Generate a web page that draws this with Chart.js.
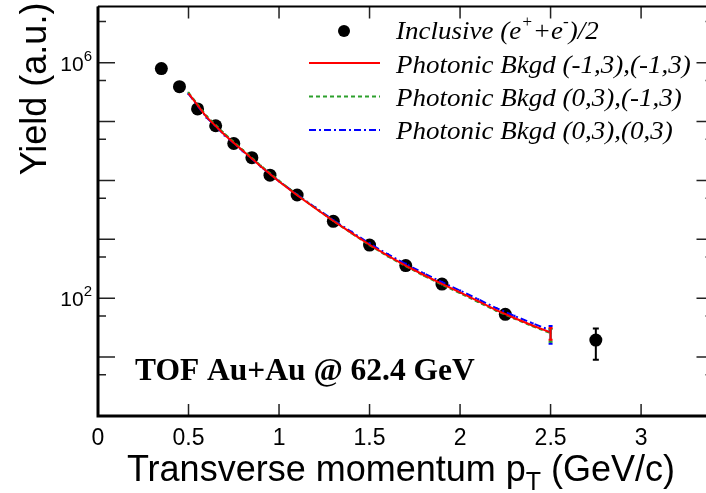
<!DOCTYPE html>
<html>
<head>
<meta charset="utf-8">
<script src="https://cdn.jsdelivr.net/npm/chart.js@4.4.1/dist/chart.umd.min.js"></script>
<style>
  html, body { margin:0; padding:0; background:#fff; overflow:hidden; }
  #wrap { width:720px; height:493px; }
</style>
</head>
<body>
<div id="wrap"><canvas id="chart-yield" width="720" height="493"></canvas></div>
<script>
// inclusive electrons
const ptInclusive    = [0.35, 0.45, 0.55, 0.65, 0.75, 0.85, 0.95, 1.1, 1.3, 1.5, 1.7, 1.9, 2.25, 2.75];
const yieldInclusive = [7.93e5, 3.91e5, 1.64e5, 8.5e4, 4.24e4, 2.44e4, 1.23e4, 5660, 2020, 800, 359, 174, 53.2, 19.5];
const errHiInclusive = [0, 0, 0, 0, 0, 0, 0, 0, 0, 0, 0, 0, 0, 11];
const errLoInclusive = [0, 0, 0, 0, 0, 0, 0, 0, 0, 0, 0, 0, 0, 10.5];

// photonic background curves
const ptBkgd = [0.5, 0.6, 0.7, 0.8, 0.9, 1.0, 1.1, 1.2, 1.3, 1.4, 1.5, 1.6, 1.7, 1.8, 1.9, 2.0, 2.1, 2.2, 2.3, 2.4, 2.5];
const bkgdA = [3.01e5, 1.19e5, 5.93e4, 3.19e4, 1.72e4, 9620, 5600, 3380, 2050, 1285, 809, 528, 359, 248, 175, 126, 89, 62.9, 46.1, 34.5, 26.3];
const bkgdB = [3.1e5, 1.24e5, 6.2e4, 3.3e4, 1.78e4, 9900, 5700, 3400, 2050, 1270, 795, 515, 350, 240, 170, 122, 86, 61, 45, 33.5, 25.5];
const bkgdC = [2.95e5, 1.17e5, 5.85e4, 3.15e4, 1.72e4, 9700, 5750, 3480, 2120, 1340, 850, 560, 382, 265, 187, 135, 96, 68, 50, 37.5, 28.5];
// errors on the last bin only
const errBkgdA = [5, 6.5];
const errBkgdB = [4.6, 7.3];
const errBkgdC = [5.4, 11.6];

const xTicks = [0, 0.5, 1, 1.5, 2, 2.5, 3];
const xTickLabels = ['0', '0.5', '1', '1.5', '2', '2.5', '3'];
const yMajor = [1, 10, 100, 1e3, 1e4, 1e5, 1e6];
const yMinor = [5, 50, 500, 5e3, 5e4, 5e5, 5e6];
const yLabelled = [[1e6, '6'], [1e2, '2']];

const legendRows = [
  { kind:'dot' },
  { kind:'line', color:'#ff0000', dash:[] , text:'Photonic Bkgd (-1,3),(-1,3)' },
  { kind:'line', color:'#2ca02c', dash:[4,3], text:'Photonic Bkgd (0,3),(-1,3)' },
  { kind:'line', color:'#0000ff', dash:[7,3,2,3], text:'Photonic Bkgd (0,3),(0,3)' }
];

function drawRuns(ctx, x, y, runs) {
  // runs: [text, font, dy]
  runs.forEach(([t, f, dy]) => {
    ctx.font = f;
    ctx.fillText(t, x, y + dy);
    x += ctx.measureText(t).width;
  });
  return x;
}
function runsWidth(ctx, runs) {
  let w = 0;
  runs.forEach(([t, f]) => { ctx.font = f; w += ctx.measureText(t).width; });
  return w;
}

const errorBars = {
  id:'errorBars',
  afterDatasetsDraw(chart) {
    const { ctx, scales:{ x, y } } = chart;
    ctx.save();
    ctx.lineWidth = 2;
    ctx.strokeStyle = '#000';
    ptInclusive.forEach((p, i) => {
      if (!errHiInclusive[i]) return;
      const px = x.getPixelForValue(p);
      const y1 = y.getPixelForValue(yieldInclusive[i] + errHiInclusive[i]);
      const y2 = y.getPixelForValue(yieldInclusive[i] - errLoInclusive[i]);
      ctx.beginPath();
      ctx.moveTo(px, y1); ctx.lineTo(px, y2);
      ctx.moveTo(px - 3, y1); ctx.lineTo(px + 3, y1);
      ctx.moveTo(px - 3, y2); ctx.lineTo(px + 3, y2);
      ctx.stroke();
    });
    const last = ptBkgd.length - 1;
    [[bkgdC, errBkgdC, '#0000ff'], [bkgdB, errBkgdB, '#2ca02c'], [bkgdA, errBkgdA, '#ff0000']].forEach(([vals, err, col]) => {
      const px = x.getPixelForValue(ptBkgd[last]);
      const y1 = y.getPixelForValue(vals[last] + err[0]);
      const y2 = y.getPixelForValue(vals[last] - err[1]);
      ctx.strokeStyle = col;
      ctx.lineWidth = 2;
      ctx.beginPath();
      ctx.moveTo(px, y1); ctx.lineTo(px, y2);
      ctx.moveTo(px - 2, y1); ctx.lineTo(px + 2, y1);
      ctx.moveTo(px - 2, y2); ctx.lineTo(px + 2, y2);
      ctx.stroke();
    });
    ctx.restore();
  }
};

const frame = {
  id:'frame',
  afterDraw(chart) {
    const { ctx, chartArea:a, scales:{ x, y } } = chart;
    ctx.save();
    // ticks
    ctx.strokeStyle = '#222';
    ctx.lineWidth = 1.5;
    ctx.beginPath();
    xTicks.forEach(v => {
      const px = x.getPixelForValue(v);
      ctx.moveTo(px, a.bottom); ctx.lineTo(px, a.bottom - 12);
      ctx.moveTo(px, a.top); ctx.lineTo(px, a.top + 12);
    });
    yMajor.forEach(v => {
      const py = y.getPixelForValue(v);
      ctx.moveTo(a.left, py); ctx.lineTo(a.left + 17, py);
      ctx.moveTo(a.right, py); ctx.lineTo(a.right - 17, py);
    });
    yMinor.forEach(v => {
      const py = y.getPixelForValue(v);
      if (py < a.top) return;
      ctx.moveTo(a.left, py); ctx.lineTo(a.left + 8, py);
      ctx.moveTo(a.right, py); ctx.lineTo(a.right - 8, py);
    });
    ctx.stroke();

    // frame
    ctx.strokeStyle = '#000';
    ctx.lineWidth = 3;
    ctx.beginPath();
    ctx.moveTo(a.left, a.top); ctx.lineTo(a.left, a.bottom); ctx.lineTo(a.right, a.bottom);
    ctx.stroke();
    ctx.lineWidth = 2;
    ctx.beginPath();
    ctx.moveTo(a.left, a.top); ctx.lineTo(a.right, a.top); ctx.lineTo(a.right, a.bottom);
    ctx.stroke();

    // tick labels
    ctx.fillStyle = '#000';
    ctx.font = '23px "Liberation Sans", Arial, sans-serif';
    ctx.textAlign = 'center';
    ctx.textBaseline = 'alphabetic';
    xTicks.forEach((v, i) => ctx.fillText(xTickLabels[i], x.getPixelForValue(v), 445));
    ctx.textAlign = 'left';
    yLabelled.forEach(([v, e]) => {
      const py = y.getPixelForValue(v);
      const runs = [['10', '21px "Liberation Sans", Arial', 0], [e, '15px "Liberation Sans", Arial', -10]];
      const w = runsWidth(ctx, runs);
      drawRuns(ctx, 92 - w, py + 8, runs);
    });

    // axis titles
    const tf = '36px "Liberation Sans", Arial, sans-serif';
    const xRuns = [['Transverse momentum p', tf, 0], ['T', '25px "Liberation Sans", Arial', 9], [' (GeV/c)', tf, 0]];
    const xw = runsWidth(ctx, xRuns);
    drawRuns(ctx, 401 - xw / 2, 481, xRuns);

    ctx.save();
    ctx.translate(46, 89);
    ctx.rotate(-Math.PI / 2);
    ctx.font = tf;
    ctx.textAlign = 'center';
    ctx.fillText('Yield (a.u.)', 0, 0);
    ctx.restore();

    // legend
    const lf = 'italic 25px "Liberation Serif", "Times New Roman", serif';
    const sf = 'italic 16px "Liberation Serif", "Times New Roman", serif';
    ctx.textAlign = 'left';
    ctx.beginPath();
    ctx.arc(344, 31, 6, 0, Math.PI * 2);
    ctx.fill();
    ctx.save();
    ctx.translate(396, 0);
    ctx.scale(1.08, 1);
    drawRuns(ctx, 0, 39, [['Inclusive (e', lf, 0], ['+', sf, -12], ['+e', lf, 0], ['-', sf, -12], [')/2', lf, 0]]);
    legendRows.slice(1).forEach((r, i) => {
      ctx.font = lf;
      ctx.fillText(r.text, 0, 72.5 + i * 33.2);
    });
    ctx.restore();
    legendRows.slice(1).forEach((r, i) => {
      const yy = 63 + i * 33.5;
      ctx.strokeStyle = r.color;
      ctx.lineWidth = 2;
      ctx.setLineDash(r.dash);
      ctx.beginPath();
      ctx.moveTo(309, yy); ctx.lineTo(380, yy);
      ctx.stroke();
      ctx.setLineDash([]);
    });

    // label
    ctx.font = 'bold 31.5px "Liberation Serif", "Times New Roman", serif';
    ctx.fillText('TOF Au+Au @ 62.4 GeV', 135, 380);
    ctx.restore();
  }
};

new Chart(document.getElementById('chart-yield'), {
  type:'line',
  data:{
    datasets:[{
      label:'Inclusive (e+ + e-)/2',
      data: ptInclusive.map((p, i) => ({ x:p, y:yieldInclusive[i] })),
      showLine:false,
      pointRadius:6.5,
      pointBackgroundColor:'#000',
      pointBorderWidth:0,
      order:4
    }, {
      label:'Photonic Bkgd (0,3),(0,3)',
      data: ptBkgd.map((p, i) => ({ x:p, y:bkgdC[i] })),
      borderColor:'#0000ff',
      borderWidth:2,
      borderDash:[7,3,2,3],
      pointStyle:'rect',
      pointRadius:1.6,
      pointBackgroundColor:'#0000ff',
      pointBorderWidth:0,
      tension:0,
      order:3
    }, {
      label:'Photonic Bkgd (0,3),(-1,3)',
      data: ptBkgd.map((p, i) => ({ x:p, y:bkgdB[i] })),
      borderColor:'#2ca02c',
      borderWidth:2,
      borderDash:[4,3],
      pointStyle:'rect',
      pointRadius:1.3,
      pointBackgroundColor:'#2ca02c',
      pointBorderWidth:0,
      tension:0,
      order:2
    }, {
      label:'Photonic Bkgd (-1,3),(-1,3)',
      data: ptBkgd.map((p, i) => ({ x:p, y:bkgdA[i] })),
      borderColor:'#ff0000',
      borderWidth:2,
      pointRadius:0,
      tension:0,
      order:1
    }]
  },
  options:{
    responsive:false,
    animation:false,
    layout:{ padding:{ left:98, top:2, right:6, bottom:77 } },
    plugins:{ legend:{ display:false }, tooltip:{ enabled:false } },
    scales:{
      x:{ type:'linear', min:0, max:3.4, display:false },
      y:{ type:'logarithmic', min:1, max:9e6, display:false }
    }
  },
  plugins:[errorBars, frame]
});
</script>
</body>
</html>
